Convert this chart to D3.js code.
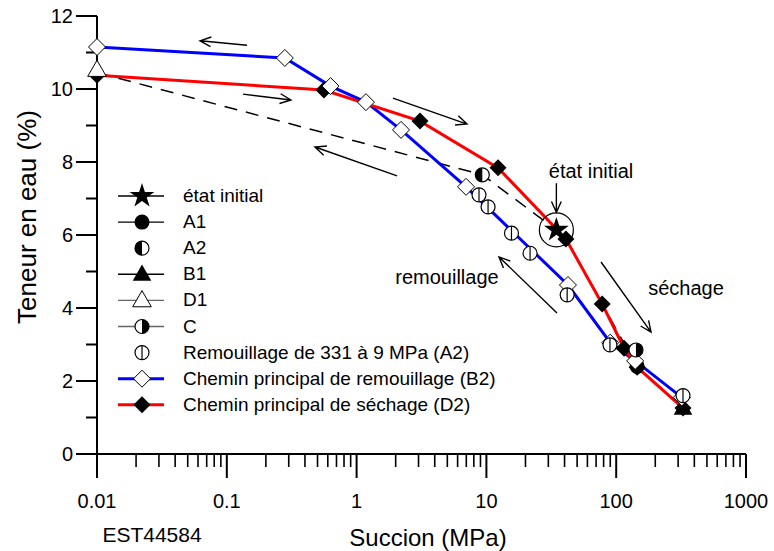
<!DOCTYPE html>
<html lang="fr">
<head>
<meta charset="utf-8">
<title>Teneur en eau - succion</title>
<script src="https://cdn.jsdelivr.net/npm/d3@7"></script>
<style>
  body { margin: 0; background: #fff; }
  svg { font-family: "Liberation Sans", Arial, sans-serif; }
  .tick-lab { font-size: 20px; }
  .leg { font-size: 19px; }
  .note { font-size: 20px; }
</style>
</head>
<body>
<svg width="774" height="551"></svg>
<script>
// chemin principal de remouillage (B2) - open diamonds
const wetX = [0.01, 0.28, 0.63, 1.18, 2.2, 6.97, 42.5, 90, 140, 320];
const wetY = [11.15, 10.85, 10.08, 9.64, 8.88, 7.32, 4.63, 3.05, 2.55, 1.55];

// chemin principal de séchage (D2) - filled diamonds
const dryX = [0.01, 0.56, 3.08, 12.3, 41, 78, 115, 145, 327];
const dryY = [10.38, 9.97, 9.12, 7.84, 5.89, 4.11, 2.9, 2.38, 1.26];

// remouillage de 331 à 9 MPa (A2)
const rewetX = [327, 89.5, 41.9, 21.7, 15.6, 10.3, 8.77];
const rewetY = [1.6, 2.99, 4.36, 5.5, 6.05, 6.77, 7.1];

// dashed path
const dashX = [0.01, 9.3, 34.6, 41, 78, 145, 327];
const dashY = [10.45, 7.65, 6.14, 5.89, 4.11, 2.38, 1.26];

// single points
const starPt = [34.6, 6.14];
const a1Pt = [145, 2.4];
const a2Pt = [9.3, 7.65];
const b1Pt = [327, 1.25];
const d1Pt = [0.01, 10.52];
const cPt = [142, 2.85];

const xTicks = [0.01, 0.1, 1, 10, 100, 1000];
const xTickLabels = ["0.01", "0.1", "1", "10", "100", "1000"];
const yTicks = [0, 2, 4, 6, 8, 10, 12];

const legendLabels = ["état initial", "A1", "A2", "B1", "D1", "C",
  "Remouillage de 331 à 9 MPa (A2)",
  "Chemin principal de remouillage (B2)",
  "Chemin principal de séchage (D2)"];

// arrows [x0, y0, x1, y1] in data units
const arrows = [
  [0.143, 11.2, 0.0622, 11.32],
  [0.1334, 9.86, 0.312, 9.70],
  [1.907, 9.75, 7.09, 9.04],
  [2.05, 7.62, 0.478, 8.41],
  [34.99, 3.86, 12.5, 5.40],
  [76.4, 5.26, 185.4, 3.34],
  [34.6, 7.42, 34.6, 6.62]
];
const notes = [["état initial", 64, 7.75], ["remouillage", 4.97, 4.85], ["séchage", 345, 4.55]];

const svg = d3.select("svg");
const x = d3.scaleLog().domain([0.01, 1000]).range([97, 746]);
const y = d3.scaleLinear().domain([0, 12]).range([454, 16]);

// axes
const xAxis = svg.append("g").attr("transform", "translate(0,454)");
xAxis.append("line").attr("x1", 80).attr("x2", x(1000)).attr("stroke", "#000").attr("stroke-width", 2);
const minor = [];
for (let e = -2; e < 3; e++) for (let m = 2; m <= 9; m++) minor.push(m * Math.pow(10, e));
xAxis.selectAll(".mn").data(minor).enter().append("line")
  .attr("x1", d => x(d)).attr("x2", d => x(d)).attr("y1", 0).attr("y2", 13)
  .attr("stroke", "#000").attr("stroke-width", 1.6);
xAxis.selectAll(".mj").data(xTicks).enter().append("line")
  .attr("x1", d => x(d)).attr("x2", d => x(d)).attr("y1", 0).attr("y2", 24)
  .attr("stroke", "#000").attr("stroke-width", 2);
xAxis.selectAll(".lb").data(xTicks).enter().append("text")
  .attr("class", "tick-lab").attr("x", d => x(d)).attr("y", 54)
  .attr("text-anchor", "middle").text((d, i) => xTickLabels[i]);

const yAxis = svg.append("g").attr("transform", "translate(97,0)");
yAxis.append("line").attr("y1", y(12)).attr("y2", y(0)).attr("stroke", "#000").attr("stroke-width", 2);
yAxis.selectAll(".mj").data(d3.range(0, 13)).enter().append("line")
  .attr("y1", d => y(d)).attr("y2", d => y(d)).attr("x1", d => d % 2 ? -11 : -21).attr("x2", 0)
  .attr("stroke", "#000").attr("stroke-width", 2);
yAxis.selectAll(".lb").data(yTicks).enter().append("text")
  .attr("class", "tick-lab").attr("x", -24).attr("y", d => y(d) + 7)
  .attr("text-anchor", "end").text(d => d);

svg.append("text").attr("transform", "translate(36,217) rotate(-90)")
  .attr("text-anchor", "middle").style("font-size", "26px").text("Teneur en eau (%)");
svg.append("text").attr("x", 428).attr("y", 546)
  .attr("text-anchor", "middle").style("font-size", "24px").text("Succion (MPa)");
svg.append("text").attr("x", 152).attr("y", 542)
  .attr("text-anchor", "middle").style("font-size", "21px").text("EST44584");

const line = d3.line().x(d => x(d[0])).y(d => y(d[1]));
const zip = (a, b) => a.map((v, i) => [v, b[i]]);

svg.append("path").attr("d", line(zip(dashX, dashY))).attr("fill", "none")
  .attr("stroke", "#000").attr("stroke-width", 1.5).attr("stroke-dasharray", "13,9");
svg.append("path").attr("d", line(zip(wetX, wetY))).attr("fill", "none")
  .attr("stroke", "#0000ff").attr("stroke-width", 3);
svg.append("path").attr("d", line(zip(dryX, dryY))).attr("fill", "none")
  .attr("stroke", "#ff0000").attr("stroke-width", 3);

// marker drawers
const diamond = r => `M0,${-r}L${r},0L0,${r}L${-r},0Z`;
function mark(g, type) {
  if (type === "star") {
    g.append("path").attr("d", d3.symbol(d3.symbolStar, 190)()).attr("fill", "#000");
  } else if (type === "fillCircle") {
    g.append("circle").attr("r", 7.5).attr("fill", "#000");
  } else if (type === "A2") {
    g.append("circle").attr("r", 7).attr("fill", "#fff").attr("stroke", "#000").attr("stroke-width", 1.2);
    g.append("path").attr("d", "M0,-7A7,7 0 0,0 0,7Z").attr("fill", "#000");
  } else if (type === "C") {
    g.append("circle").attr("r", 7).attr("fill", "#fff").attr("stroke", "#000").attr("stroke-width", 1.2);
    g.append("path").attr("d", "M0,-7A7,7 0 0,1 0,7Z").attr("fill", "#000");
  } else if (type === "halfOpen") {
    g.append("circle").attr("r", 7).attr("fill", "#fff").attr("stroke", "#000").attr("stroke-width", 1.2);
    g.append("line").attr("y1", -7).attr("y2", 7).attr("stroke", "#000").attr("stroke-width", 1.2);
  } else if (type === "triFill") {
    g.append("path").attr("d", d3.symbol(d3.symbolTriangle, 150)()).attr("transform", "translate(0,1)").attr("fill", "#000");
  } else if (type === "triOpen") {
    g.append("path").attr("d", d3.symbol(d3.symbolTriangle, 150)()).attr("transform", "translate(0,1)")
      .attr("fill", "#fff").attr("stroke", "#000").attr("stroke-width", 1);
  } else if (type === "diaOpen") {
    g.append("path").attr("d", diamond(8.5)).attr("fill", "#fff").attr("stroke", "#000").attr("stroke-width", 1);
  } else if (type === "diaFill") {
    g.append("path").attr("d", diamond(8.5)).attr("fill", "#000");
  }
}
function plot(pts, type) {
  svg.append("g").selectAll("g").data(pts).enter().append("g")
    .attr("transform", d => `translate(${x(d[0])},${y(d[1])})`)
    .each(function () { mark(d3.select(this), type); });
}

plot([b1Pt], "triFill");
plot(zip(dryX, dryY), "diaFill");
plot([a1Pt], "fillCircle");
plot(zip(wetX, wetY), "diaOpen");
plot([d1Pt], "triOpen");
plot(zip(rewetX, rewetY), "halfOpen");
plot([a2Pt], "A2");
plot([cPt], "C");
plot([starPt], "star");
svg.append("circle").attr("cx", x(starPt[0])).attr("cy", y(starPt[1])).attr("r", 17)
  .attr("fill", "none").attr("stroke", "#000").attr("stroke-width", 1.2);

// arrows
function arrow(a) {
  const x0 = x(a[0]), y0 = y(a[1]), x1 = x(a[2]), y1 = y(a[3]);
  const ang = Math.atan2(y1 - y0, x1 - x0), h = 12, s = 0.42;
  svg.append("path")
    .attr("d", `M${x0},${y0}L${x1},${y1}M${x1 - h * Math.cos(ang - s)},${y1 - h * Math.sin(ang - s)}L${x1},${y1}L${x1 - h * Math.cos(ang + s)},${y1 - h * Math.sin(ang + s)}`)
    .attr("fill", "none").attr("stroke", "#000").attr("stroke-width", 1.4);
}
arrows.forEach(arrow);
svg.selectAll(".note").data(notes).enter().append("text").attr("class", "note")
  .attr("x", d => x(d[1])).attr("y", d => y(d[2]) + 7).attr("text-anchor", "middle").text(d => d[0]);

// legend
const legTypes = [["star", "#000", 1.4], ["fillCircle", "#000", 1.4], ["A2", null, 0], ["triFill", "#000", 1.4],
  ["triOpen", "#666", 1.4], ["C", "#666", 1.4], ["halfOpen", null, 0], ["diaOpen", "#0000ff", 3], ["diaFill", "#ff0000", 3]];
const leg = svg.append("g").selectAll("g").data(legendLabels).enter().append("g")
  .attr("transform", (d, i) => `translate(142,${196 + i * 26.1})`);
leg.each(function (d, i) {
  const g = d3.select(this);
  const t = legTypes[i];
  if (t[1]) g.append("line").attr("x1", -24).attr("x2", 22).attr("stroke", t[1]).attr("stroke-width", t[2]);
  mark(g.append("g"), t[0]);
  g.append("text").attr("class", "leg").attr("x", 41).attr("y", 6).text(d);
});
</script>
</body>
</html>
